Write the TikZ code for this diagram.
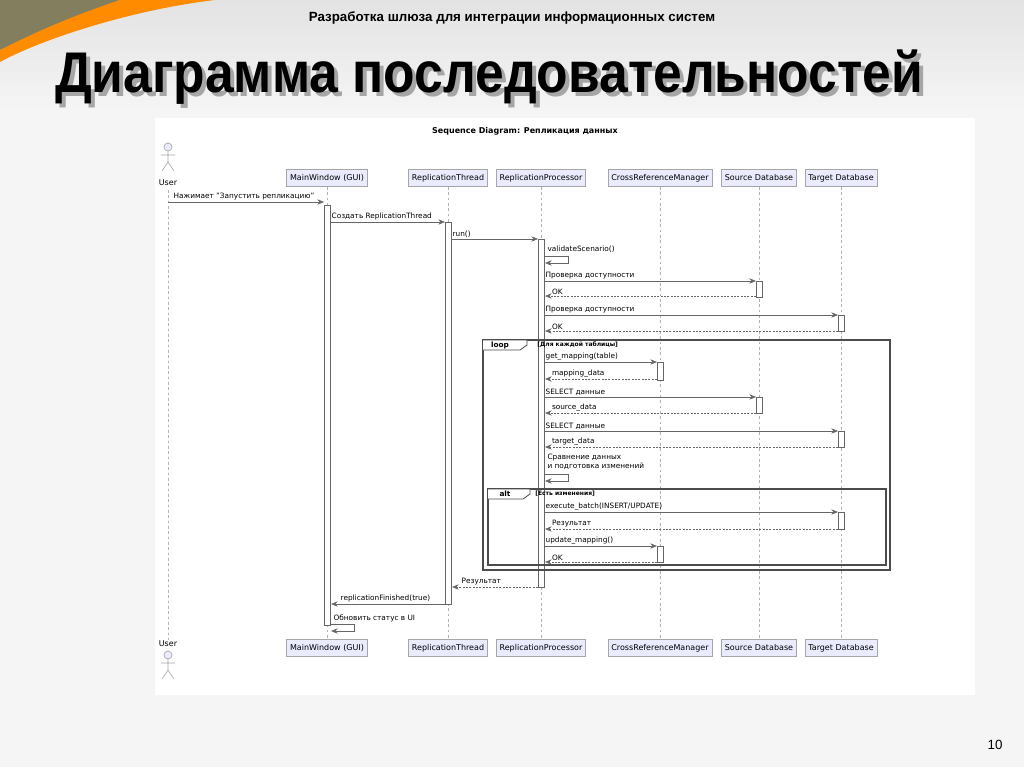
\documentclass[tikz,border=0pt]{standalone}
\usepackage{fontspec}
\setmainfont{DejaVu Sans}
\newfontfamily\lib{Liberation Sans}
\usetikzlibrary{arrows.meta}
\begin{document}
\begin{tikzpicture}[x=0.75pt,y=-0.75pt,
  part/.style={draw=gray!70,fill=blue!8,font=\fontsize{6}{7}\selectfont,inner sep=2.5pt,minimum height=13pt},
  lbl/.style={font=\fontsize{5.5}{6.5}\selectfont,anchor=south west,inner sep=1pt},
  msg/.style={draw=gray!80!black,line width=0.5pt,-{Stealth[length=5pt,width=4pt]}},
  ret/.style={msg,dashed,dash pattern=on 1.5pt off 1pt},
  act/.style={draw=gray!80!black,fill=white,line width=0.5pt},
  life/.style={draw=gray!60,dashed,dash pattern=on 2pt off 2pt,line width=0.4pt},
  frame/.style={draw=gray!60!black,line width=1pt},
  ttl/.style={font=\lib\bfseries\fontsize{43}{46}\selectfont,inner sep=0pt,xscale=0.9}]
\useasboundingbox (0,0) rectangle (1024,767);
\shade[top color=gray!22,bottom color=gray!8] (0,0) rectangle (1024,110);
\fill[gray!8] (0,110) rectangle (1024,767);
% corner decoration
\fill[olive!40!black!70] (0,0) -- (120,0) -- (0,50) -- cycle;
\fill[orange!90!yellow] (120,0) .. controls (60,20) and (20,40) .. (0,50) -- (0,62) .. controls (40,40) and (130,10) .. (215,0) -- cycle;
\node[font=\lib\bfseries\fontsize{10}{12}\selectfont] (sub) at (512,18) {Разработка шлюза для интеграции информационных систем};
\node[ttl,text=gray!70] (tsh) at (493,81) {Диаграмма последовательностей};
\node[ttl] (title) at (489,77) {Диаграмма последовательностей};
\node[font=\lib\fontsize{10}{12}\selectfont] (pg) at (995,745) {10};
\fill[white] (155,118) rectangle (975,695);
\node[font=\bfseries\fontsize{6}{7}\selectfont] (dt) at (525,131) {Sequence Diagram: Репликация данных};
% participants
\foreach \n/\x/\t in {mw/327/MainWindow (GUI),rt/448/ReplicationThread,rp/541/ReplicationProcessor,crm/660/CrossReferenceManager,sd/759/Source Database,td/841/Target Database}{
  \node[part] (\n t) at (\x,178) {\t};
  \node[part] (\n b) at (\x,648) {\t};
  \draw[life] (\n t.south) -- (\n b.north);
}
\coordinate (ut) at (168,190); \coordinate (ub) at (168,640);
\draw[life] (ut) -- (ub);
\foreach \y in {147,655}{
  \draw[gray!70,line width=0.5pt,fill=blue!8] (168,\y) circle (4);
  \draw[gray!70,line width=0.5pt] (168,\y+4) -- (168,\y+15) (161,\y+8) -- (175,\y+8) (168,\y+15) -- (162,\y+24) (168,\y+15) -- (174,\y+24);
}
\node[font=\fontsize{6}{7}\selectfont] (u1) at (168,183) {User};
\node[font=\fontsize{6}{7}\selectfont] (u2) at (168,644) {User};
% activations
\draw[act] (324,205) rectangle (330,625);
\draw[act] (445,222) rectangle (451,604);
\draw[act] (538,239) rectangle (544,587);
\draw[act] (756,281) rectangle (762,297);
\draw[act] (838,315) rectangle (844,331);
\draw[act] (657,362) rectangle (663,380);
\draw[act] (756,397) rectangle (762,413);
\draw[act] (838,431) rectangle (844,447);
\draw[act] (838,512) rectangle (844,529);
\draw[act] (657,546) rectangle (663,562);
% frames
\draw[frame] (483,340) rectangle (890,570);
\draw[frame,line width=0.6pt,fill=white] (483,340) -- (527,340) -- (527,345) -- (520,350) -- (483,350);
\node[font=\bfseries\fontsize{5.5}{6}\selectfont] (lp) at (500,345) {loop};
\node[font=\bfseries\fontsize{4.5}{5}\selectfont,anchor=west,inner sep=0pt] (lpc) at (537,345) {[Для каждой таблицы]};
\draw[frame] (488,489) rectangle (886,565);
\draw[frame,line width=0.6pt,fill=white] (488,489) -- (530,489) -- (530,494) -- (523,499) -- (488,499);
\node[font=\bfseries\fontsize{5.5}{6}\selectfont] (al) at (505,494) {alt};
\node[font=\bfseries\fontsize{4.5}{5}\selectfont,anchor=west,inner sep=0pt] (alc) at (535,494) {[Есть изменения]};
% messages
\draw[msg] (168,202) -- node[lbl,pos=0,anchor=south west,xshift=3pt] {Нажимает "Запустить репликацию"} (324,202);
\draw[msg] (330,222) -- node[lbl,pos=0] {Создать ReplicationThread} (445,222);
\draw[msg] (451,239) -- node[lbl,pos=0] {run()} (538,239);
\node[lbl] (v) at (546,254) {validateScenario()};
\draw[msg] (544,256) -- (568,256) -- (568,263) -- (545,263);
\draw[msg] (544,281) -- node[lbl,pos=0] {Проверка доступности} (756,281);
\draw[ret] (756,296) -- node[lbl,pos=1,xshift=4pt] {OK} (545,296);
\draw[msg] (544,315) -- node[lbl,pos=0] {Проверка доступности} (838,315);
\draw[ret] (838,331) -- node[lbl,pos=1,xshift=4pt] {OK} (545,331);
\draw[msg] (544,362) -- node[lbl,pos=0] {get\_mapping(table)} (657,362);
\draw[ret] (657,379) -- node[lbl,pos=1,xshift=4pt] {mapping\_data} (545,379);
\draw[msg] (544,397) -- node[lbl,pos=0] {SELECT данные} (756,397);
\draw[ret] (756,413) -- node[lbl,pos=1,xshift=4pt] {source\_data} (545,413);
\draw[msg] (544,431) -- node[lbl,pos=0] {SELECT данные} (838,431);
\draw[ret] (838,447) -- node[lbl,pos=1,xshift=4pt] {target\_data} (545,447);
\node[lbl,align=left] (cmp) at (546,471) {Сравнение данных\\и подготовка изменений};
\draw[msg] (544,474) -- (568,474) -- (568,481) -- (545,481);
\draw[msg] (544,512) -- node[lbl,pos=0] {execute\_batch(INSERT/UPDATE)} (838,512);
\draw[ret] (838,529) -- node[lbl,pos=1,xshift=4pt] {Результат} (545,529);
\draw[msg] (544,546) -- node[lbl,pos=0] {update\_mapping()} (657,546);
\draw[ret] (657,562) -- node[lbl,pos=1,xshift=4pt] {OK} (545,562);
\draw[ret] (538,587) -- node[lbl,pos=1,xshift=6pt] {Результат} (452,587);
\draw[msg] (445,604) -- node[lbl,pos=1,xshift=6pt] {replicationFinished(true)} (331,604);
\node[lbl] (ob) at (332,624) {Обновить статус в UI};
\draw[msg] (330,624) -- (354,624) -- (354,631) -- (331,631);
\end{tikzpicture}
\end{document}
